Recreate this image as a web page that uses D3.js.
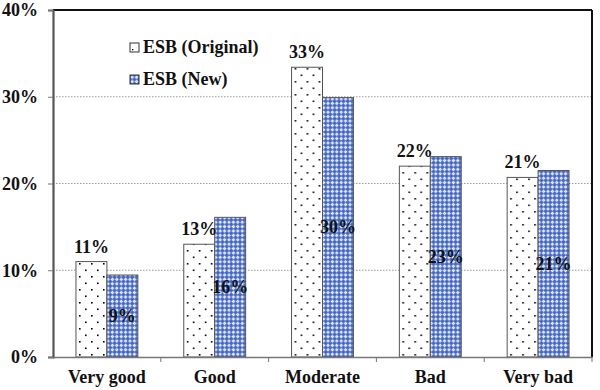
<!DOCTYPE html>
<html><head><meta charset="utf-8">
<script src="https://cdn.jsdelivr.net/npm/d3@7"></script>
<style>body{margin:0;background:#fff}svg{display:block}</style>
</head><body>
<svg id="c" width="600" height="390"></svg>
<script>
const categories = ["Very good","Good","Moderate","Bad","Very bad"];
const seriesNames = ["ESB (Original)","ESB (New)"];
const original = [11.0, 13.0, 33.4, 22.0, 20.7];
const newer = [9.45, 16.1, 29.9, 23.1, 21.5];
const origLabels = ["11%","13%","33%","22%","21%"];
const newLabels = ["9%","16%","30%","23%","21%"];
const yTicks = [0,10,20,30,40];

const svg = d3.select("#c");
const m = {l:53, r:592, t:10, b:357};
const FONT = '"Liberation Serif"';
function styleText(sel){
  return sel.attr("font-family",FONT).attr("font-weight","bold").attr("font-size",18).attr("fill","#111");
}

const defs = svg.append("defs");
const pd = defs.append("pattern").attr("id","dots").attr("patternUnits","userSpaceOnUse")
  .attr("width",12).attr("height",13).attr("x",2).attr("y",3);
pd.append("rect").attr("width",12).attr("height",13).attr("fill","#fff");
pd.append("rect").attr("x",0).attr("y",0).attr("width",1.6).attr("height",1.6).attr("fill","#000");
pd.append("rect").attr("x",6).attr("y",6.5).attr("width",1.6).attr("height",1.6).attr("fill","#000");

const pb = defs.append("pattern").attr("id","blue").attr("patternUnits","userSpaceOnUse")
  .attr("width",4.4).attr("height",4.4);
pb.append("rect").attr("width",4.4).attr("height",4.4).attr("fill","#3f63c2");
pb.append("rect").attr("x",1.5).attr("y",0.6).attr("width",1.4).attr("height",3.2).attr("fill","#fff");
pb.append("rect").attr("x",0.6).attr("y",1.5).attr("width",3.2).attr("height",1.4).attr("fill","#fff");
pb.append("rect").attr("x",1.9).attr("y",1.9).attr("width",0.6).attr("height",0.6).attr("fill","#6c8ad6");

const y = d3.scaleLinear().domain([0,40]).range([m.b, m.t]);
const x0 = d3.scaleBand().domain(categories).range([m.l, m.r]).padding(0);
const bw = x0.bandwidth();
const x1 = d3.scaleBand().domain(seriesNames).range([bw*0.213, bw*0.787]).padding(0);

svg.append("g").selectAll("line").data([10,20,30]).join("line")
  .attr("x1",m.l).attr("x2",m.r).attr("y1",d=>y(d)).attr("y2",d=>y(d))
  .attr("stroke","#999").attr("stroke-width",1).attr("stroke-dasharray","1.5,1.5");

const data = categories.map((c,i)=>({c, vals:[
  {s:seriesNames[0], v:original[i], lab:origLabels[i]},
  {s:seriesNames[1], v:newer[i], lab:newLabels[i]}]}));

const g = svg.append("g").selectAll("g").data(data).join("g")
  .attr("transform",d=>`translate(${x0(d.c)},0)`);
g.selectAll("rect").data(d=>d.vals).join("rect")
  .attr("x",d=>x1(d.s)).attr("width",x1.bandwidth())
  .attr("y",d=>y(d.v)).attr("height",d=>y(0)-y(d.v))
  .attr("fill",(d,i)=>i===0?"url(#dots)":"url(#blue)")
  .attr("stroke","#555").attr("stroke-width",1);

styleText(g.selectAll("text").data(d=>d.vals).join("text")
  .attr("x",d=>x1(d.s)+x1.bandwidth()/2)
  .attr("y",(d,i)=> i===0 ? y(d.v)-9 : (y(d.v)+y(0))/2+6)
  .attr("text-anchor","middle")
  .text(d=>d.lab));

svg.append("line").attr("x1",m.l).attr("x2",m.r).attr("y1",m.t).attr("y2",m.t).attr("stroke","#111").attr("stroke-width",2);
svg.append("line").attr("x1",m.r).attr("x2",m.r).attr("y1",m.t).attr("y2",m.b).attr("stroke","#111").attr("stroke-width",2);

const ya = svg.append("g").attr("transform",`translate(${m.l},0)`)
  .call(d3.axisLeft(y).tickValues(yTicks).tickFormat(d=>d+"%").tickSize(5).tickPadding(10));
ya.select(".domain").attr("stroke","#555").attr("stroke-width",2.2);
ya.selectAll(".tick line").attr("stroke","#777");
styleText(ya.selectAll("text"));

const xa = svg.append("g").attr("transform",`translate(0,${m.b})`)
  .call(d3.axisBottom(x0).tickSize(0).tickPadding(13));
xa.select(".domain").attr("stroke","#777").attr("stroke-width",1.5);
styleText(xa.selectAll("text"));
xa.append("g").selectAll("line").data(categories).join("line")
  .attr("x1",d=>x0(d)+bw).attr("x2",d=>x0(d)+bw).attr("y1",0).attr("y2",5)
  .attr("stroke","#777");

const lg = svg.append("g").selectAll("g").data(seriesNames).join("g")
  .attr("transform",(d,i)=>`translate(130,${43+i*32})`);
lg.append("rect").attr("width",9).attr("height",9)
  .attr("fill",(d,i)=>i===0?"#fff":"url(#blue)").attr("stroke","#333").attr("stroke-width",1);
lg.filter((d,i)=>i===0).append("rect").attr("x",2).attr("y",6).attr("width",1.3).attr("height",1.3).attr("fill","#000");
styleText(lg.append("text").attr("x",13).attr("y",10).text(d=>d));
</script>
</body></html>
